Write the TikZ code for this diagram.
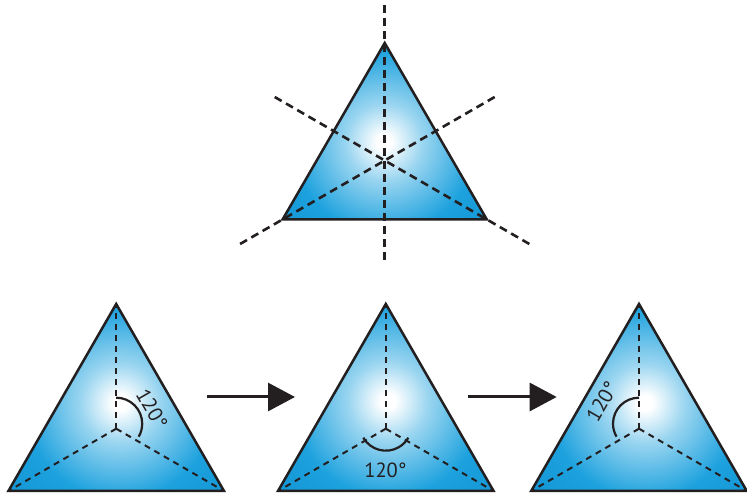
\documentclass[tikz,border=0pt]{standalone}
\usepackage{fontspec}
\newfontfamily\labfont{PT Sans}
\usetikzlibrary{arrows.meta}
\definecolor{triblue}{RGB}{30,162,222}
\definecolor{deepblue}{RGB}{8,140,206}
\definecolor{ink}{RGB}{35,31,32}
\pgfdeclareradialshading{trishade}{\pgfpoint{0bp}{0bp}}{color(0bp)=(white); color(1.5bp)=(white); color(8bp)=(triblue!45!white); color(19bp)=(triblue); color(36bp)=(deepblue); color(50bp)=(deepblue)}
\newcommand\shadedtri[6]{% A B C spotx spoty R
  \begin{scope}
    \clip (#1) -- (#2) -- (#3) -- cycle;
    \shade[shading=trishade] ({#4-#6},{#5-#6}) rectangle ({#4+#6},{#5+#6});
  \end{scope}}
\begin{document}
\begin{tikzpicture}[x=1pt,y=1pt,
  triline/.style={draw=ink,line width=2.5pt,line join=miter},
  topdash/.style={draw=ink,line width=2.6pt,dash pattern=on 8pt off 5pt},
  botdash/.style={draw=ink,line width=2pt,dash pattern=on 6pt off 5pt},
  arcline/.style={draw=ink,line width=2.2pt},
  lab/.style={text=ink,font=\labfont\fontsize{20.5}{24}\selectfont,inner sep=0pt},
  arr/.style={draw=ink,line width=3pt,-{Triangle[length=27pt,width=28pt]}}]
\useasboundingbox (0,0) rectangle (747,497);
% top triangle
\coordinate (A0) at (384.7,454);
\coordinate (B0) at (282.7,277.7);
\coordinate (C0) at (486.7,277.7);
\coordinate (G0) at (384.7,336.5);
\shadedtri{A0}{B0}{C0}{384}{355}{120}
\draw[topdash] (384.7,492) coordinate (v1) -- (384.7,235) coordinate (v2);
\draw[topdash] ([shift={(150:127)}]G0) coordinate (s1) -- ([shift={(-30:168)}]G0) coordinate (s2);
\draw[topdash] ([shift={(30:127)}]G0) coordinate (s3) -- ([shift={(210:168)}]G0) coordinate (s4);
\draw[triline] (A0) -- (B0) -- (C0) -- cycle;
% bottom left
\coordinate (A1) at (116.2,193);
\coordinate (B1) at (8.4,6);
\coordinate (C1) at (224,6);
\coordinate (G1) at (116.2,68.3);
\shadedtri{A1}{B1}{C1}{120}{94}{125}
\draw[botdash] (G1) -- (A1);
\draw[botdash] (G1) -- (B1);
\draw[botdash] (G1) -- (C1);
\draw[triline] (A1) -- (B1) -- (C1) -- cycle;
\draw[arcline] ([shift={(90:26)}]G1) ++(0,5) arc[start angle=90,end angle=-30,radius=26];
\node[lab,rotate=-60] (t1) at (152,88) {120°};
% bottom middle
\coordinate (A2) at (385.8,193);
\coordinate (B2) at (278,6);
\coordinate (C2) at (493.6,6);
\coordinate (G2) at (385.8,68.3);
\shadedtri{A2}{B2}{C2}{388}{96}{125}
\draw[botdash] (G2) -- (A2);
\draw[botdash] (G2) -- (B2);
\draw[botdash] (G2) -- (C2);
\draw[triline] (A2) -- (B2) -- (C2) -- cycle;
\draw[arcline] ([shift={(-150:26)}]G2) ++(0,4) arc[start angle=-150,end angle=-30,radius=26];
\node[lab] (t2) at (385.5,27) {120°};
% bottom right
\coordinate (A3) at (639,193);
\coordinate (B3) at (531.2,6);
\coordinate (C3) at (746.8,6);
\coordinate (G3) at (639,68.3);
\shadedtri{A3}{B3}{C3}{645}{94}{125}
\draw[botdash] (G3) -- (A3);
\draw[botdash] (G3) -- (B3);
\draw[botdash] (G3) -- (C3);
\draw[triline] (A3) -- (B3) -- (C3) -- cycle;
\draw[arcline] ([shift={(90:26)}]G3) ++(0,5) arc[start angle=90,end angle=210,radius=26];
\node[lab,rotate=60] (t3) at (602,95.5) {120°};
% arrows
\coordinate (p1) at (206.7,100);
\coordinate (q1) at (295,100);
\coordinate (p2) at (468.3,100);
\coordinate (q2) at (556.7,100);
\draw[arr] (p1) -- (q1);
\draw[arr] (p2) -- (q2);
\end{tikzpicture}
\end{document}
